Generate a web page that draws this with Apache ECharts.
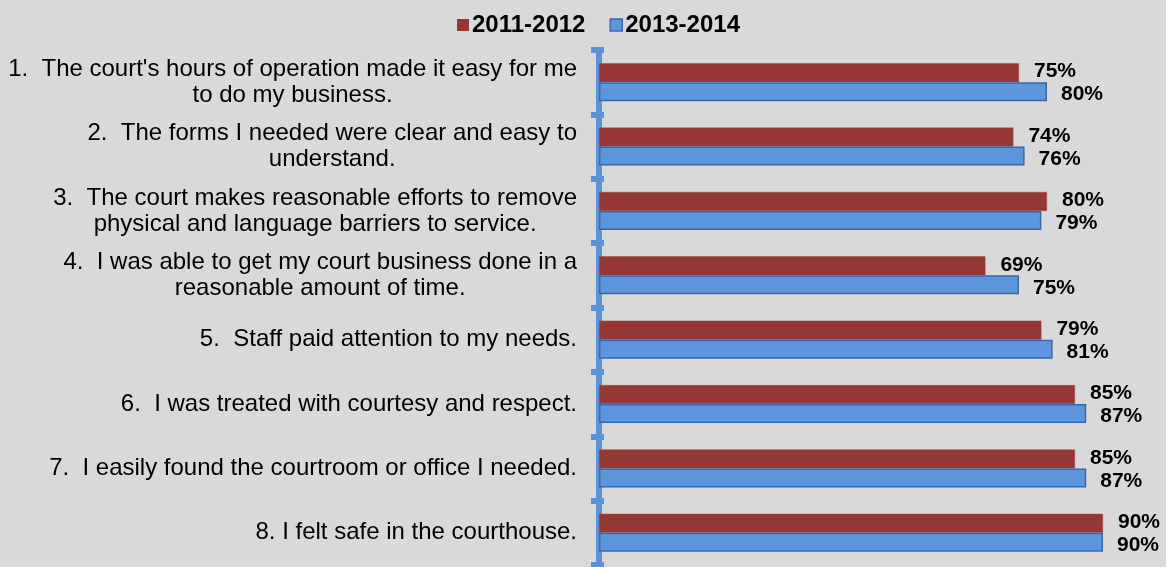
<!DOCTYPE html>
<html>
<head>
<meta charset="utf-8">
<script src="https://cdn.jsdelivr.net/npm/echarts@6/dist/echarts.min.js"></script>
<style>
  html, body { margin: 0; padding: 0; background: #d9d9d9; }
  #main { width: 1166px; height: 567px; }
</style>
</head>
<body>
<div id="main"></div>
<script>
// 问卷题目（自上而下）
var questions = [
  "1.  The court's hours of operation made it easy for me\nto do my business.",
  "2.  The forms I needed were clear and easy to\nunderstand.",
  "3.  The court makes reasonable efforts to remove\nphysical and language barriers to service.",
  "4.  I was able to get my court business done in a\nreasonable amount of time.",
  "5.  Staff paid attention to my needs.",
  "6.  I was treated with courtesy and respect.",
  "7.  I easily found the courtroom or office I needed.",
  "8. I felt safe in the courthouse."
];
var seriesNames = ['2011-2012', '2013-2014'];
var values2011 = [75, 74, 80, 69, 79, 85, 85, 90];
var values2013 = [80, 76, 79, 75, 81, 87, 87, 90];

var font = '"Liberation Sans", Arial, sans-serif';
var red = '#953735';
var blue = '#5e96dd';
var blueBorder = '#3a67a6';

var myChart = echarts.init(document.getElementById('main'));
var option = {
  backgroundColor: '#d9d9d9',
  animation: false,
  legend: {
    left: 452,
    top: 8,
    itemWidth: 12,
    itemHeight: 12,
    itemGap: 24,
    icon: 'rect',
    textStyle: {
      fontFamily: font,
      fontSize: 24,
      fontWeight: 'bold',
      color: '#000',
      padding: [0, 0, 0, -2]
    },
    data: [
      { name: seriesNames[0], itemStyle: { color: red, borderWidth: 0 } },
      { name: seriesNames[1], itemStyle: { color: blue, borderColor: blueBorder, borderWidth: 1.5 } }
    ]
  },
  grid: {
    left: 599,
    right: 7,
    top: 50,
    bottom: 2,
    containLabel: false
  },
  xAxis: {
    type: 'value',
    min: 0,
    max: 100,
    show: false
  },
  yAxis: [
    {
      type: 'category',
      inverse: true,
      data: questions,
      offset: 3,
      //坐标轴线
      axisLine: { show: true, lineStyle: { color: '#5b93d6', width: 6 } },
      axisTick: { show: true, length: 8, lineStyle: { color: '#5b93d6', width: 6 } },
      axisLabel: {
        margin: 19,
        color: '#000',
        fontFamily: font,
        fontSize: 24,
        lineHeight: 26,
        formatter: function (val) {
          return val.split('\n').map(function (l) { return '{c|' + l + '}'; }).join('\n');
        },
        rich: {
          c: { align: 'center', fontFamily: font, fontSize: 24, lineHeight: 26, color: '#000' }
        }
      },
      splitLine: { show: false }
    },
    {
      // 内侧刻度，拼成十字刻度
      type: 'category',
      inverse: true,
      position: 'left',
      data: questions,
      offset: 3,
      axisLine: { show: false },
      axisTick: { show: true, inside: true, length: 8, lineStyle: { color: '#5b93d6', width: 6 } },
      axisLabel: { show: false },
      splitLine: { show: false }
    }
  ],
  series: [
    {
      name: seriesNames[0],
      type: 'bar',
      data: values2011,
      barWidth: 19,
      barGap: '0%',
      itemStyle: { color: red, borderColor: '#a04a48', borderWidth: 0.5 },
      label: {
        show: true,
        position: 'right',
        distance: 15,
        offset: [0, -1],
        formatter: '{c}%',
        color: '#000',
        fontFamily: font,
        fontSize: 21,
        fontWeight: 'bold'
      }
    },
    {
      name: seriesNames[1],
      type: 'bar',
      data: values2013,
      barWidth: 19,
      barGap: '0%',
      itemStyle: { color: blue, borderColor: blueBorder, borderWidth: 1.5 },
      label: {
        show: true,
        position: 'right',
        distance: 14,
        offset: [0, 3],
        formatter: '{c}%',
        color: '#000',
        fontFamily: font,
        fontSize: 21,
        fontWeight: 'bold'
      }
    }
  ]
};
myChart.setOption(option);
</script>
</body>
</html>
